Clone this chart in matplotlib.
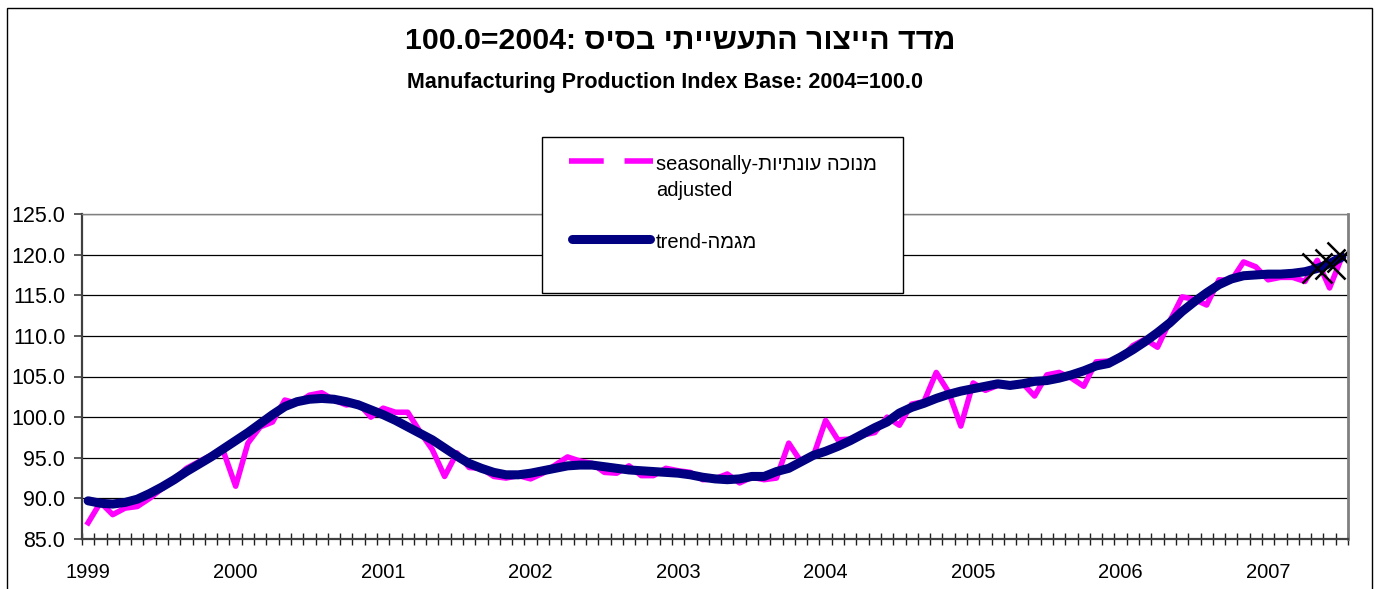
import numpy as np
import matplotlib
matplotlib.use('Agg')
import matplotlib.pyplot as plt
from matplotlib.lines import Line2D
from matplotlib.patches import Rectangle

plt.rcParams['font.family'] = ['Liberation Sans', 'DejaVu Sans']
plt.rcParams['lines.scale_dashes'] = False

# monthly data, Jan 1999 - Jul 2007
years = [1999, 2000, 2001, 2002, 2003, 2004, 2005, 2006, 2007]
adjusted = [87.0, 89.5, 88.0, 88.8, 89.0, 90.0, 91.2, 92.3, 93.7, 94.5, 95.3, 95.8,
            91.5, 96.8, 98.8, 99.4, 102.1, 101.7, 102.7, 103.0, 102.1, 101.5, 101.7, 100.0,
            101.1, 100.6, 100.6, 98.2, 96.0, 92.7, 95.6, 93.8, 93.7, 92.7, 92.5, 92.8,
            92.4, 93.1, 94.1, 95.1, 94.6, 94.3, 93.2, 93.1, 94.0, 92.8, 92.8, 93.7,
            93.4, 93.2, 92.3, 92.4, 93.0, 91.9, 92.6, 92.3, 92.5, 96.8, 94.5, 95.2,
            99.6, 97.2, 97.3, 97.8, 98.1, 100.0, 99.0, 101.6, 101.9, 105.5, 103.1, 98.9,
            104.2, 103.3, 103.9, 103.9, 104.2, 102.6, 105.2, 105.5, 104.8, 103.8, 106.8, 106.9,
            107.2, 108.8, 109.6, 108.6, 111.8, 114.8, 114.5, 113.8, 116.9, 116.8, 119.1, 118.5,
            116.9, 117.2, 117.2, 116.7, 119.3, 115.9, 119.7]
trend = [89.7, 89.4, 89.3, 89.5, 89.9, 90.6, 91.4, 92.3, 93.3, 94.2, 95.1, 96.1,
         97.1, 98.1, 99.2, 100.3, 101.3, 101.9, 102.2, 102.3, 102.2, 101.9, 101.5, 100.9,
         100.3, 99.6, 98.8, 98.0, 97.2, 96.2, 95.2, 94.3, 93.7, 93.2, 92.9, 92.9,
         93.1, 93.4, 93.7, 94.0, 94.1, 94.1, 93.9, 93.7, 93.5, 93.4, 93.3, 93.2,
         93.1, 92.9, 92.6, 92.4, 92.3, 92.4, 92.7, 92.7, 93.3, 93.7, 94.5, 95.3,
         95.8, 96.4, 97.1, 97.9, 98.7, 99.4, 100.5, 101.2, 101.7, 102.3, 102.8, 103.2,
         103.5, 103.8, 104.1, 103.9, 104.1, 104.4, 104.5, 104.8, 105.2, 105.7, 106.3, 106.6,
         107.4, 108.3, 109.3, 110.4, 111.6, 113.0, 114.2, 115.3, 116.3, 117.0, 117.4, 117.5,
         117.6, 117.6, 117.7, 117.9, 118.3, 118.9, 119.7]
n_prelim = 3  # last months marked with X

title_he = 'מדד הייצור התעשייתי בסיס'
subtitle = 'Manufacturing Production Index Base: 2004=100.0'
label_sa_he = 'מנוכה עונתיות'
label_tr_he = 'מגמה'

W, H = 1379, 589
def fx(px): return px / W
def fy(py): return 1 - py / H

pink = '#FF00FF'
navy = '#000080'
x = np.arange(len(trend))

fig = plt.figure(figsize=(W / 100, H / 100), dpi=100)
ax = fig.add_axes([fx(82), fy(539), fx(1348) - fx(82), fy(214) - fy(539)])

ax.plot(x, adjusted, color=pink, lw=4)
ax.plot(x, trend, color=navy, lw=6.5, solid_capstyle='round')
ax.plot(x[-n_prelim:], trend[-n_prelim:], 'x', color='black', ms=21, mew=1.8)

ax.set_xlim(-0.5, len(x) - 0.5)
ax.set_ylim(85, 125)
yt = np.arange(85, 126, 5)
ax.set_yticks(yt)
ax.set_yticklabels([f'{v:.1f}' for v in yt])
ax.set_xticks(np.arange(0, len(x), 12))
ax.set_xticklabels([str(y) for y in years])
ax.set_xticks(np.arange(-0.5, len(x), 1), minor=True)
ax.tick_params(axis='x', which='major', length=0, pad=17, labelsize=14.5)
ax.tick_params(axis='x', which='minor', direction='inout', length=9, width=1, color='#202020')
ax.tick_params(axis='y', which='major', direction='out', length=6, width=1.2,
               color='#404040', pad=6, labelsize=15.5)

ax.grid(axis='y', color='black', lw=0.9)
ax.set_axisbelow(True)
for s in ['left', 'bottom']:
    ax.spines[s].set_color('#404040')
    ax.spines[s].set_linewidth(1.6)
ax.spines['right'].set_color('#808080')
ax.spines['right'].set_linewidth(2)
ax.spines['top'].set_color('#808080')
ax.spines['top'].set_linewidth(1)

# outer frame
fig.add_artist(Rectangle((fx(7), fy(600)), fx(1372) - fx(7), fy(8) - fy(600),
                         transform=fig.transFigure, fill=False, ec='black', lw=1))

fig.text(fx(680), fy(49), '100.0=2004: ' + title_he[::-1], ha='center', va='baseline',
         fontsize=21.8, fontweight='bold')
fig.text(fx(665), fy(88), subtitle, ha='center', va='baseline', fontsize=15.5, fontweight='bold')

# legend
fig.add_artist(Rectangle((fx(542), fy(293)), fx(903) - fx(542), fy(137) - fy(293),
                         transform=fig.transFigure, fc='white', ec='black', lw=1, zorder=5))
fig.add_artist(Line2D([fx(569), fx(653)], [fy(161), fy(161)], transform=fig.transFigure,
                      color=pink, lw=4, dashes=(25, 15), dash_capstyle='butt', zorder=6))
fig.add_artist(Line2D([fx(572), fx(650)], [fy(239), fy(239)], transform=fig.transFigure,
                      color=navy, lw=6.5, solid_capstyle='round', zorder=6))
fig.text(fx(656), fy(170), 'seasonally-' + label_sa_he[::-1], ha='left', va='baseline',
         fontsize=14.5, zorder=7)
fig.text(fx(656), fy(196), 'adjusted', ha='left', va='baseline', fontsize=14.5, zorder=7)
fig.text(fx(656), fy(248), 'trend-' + label_tr_he[::-1], ha='left', va='baseline',
         fontsize=14.5, zorder=7)

fig.savefig('out.png', dpi=100)
